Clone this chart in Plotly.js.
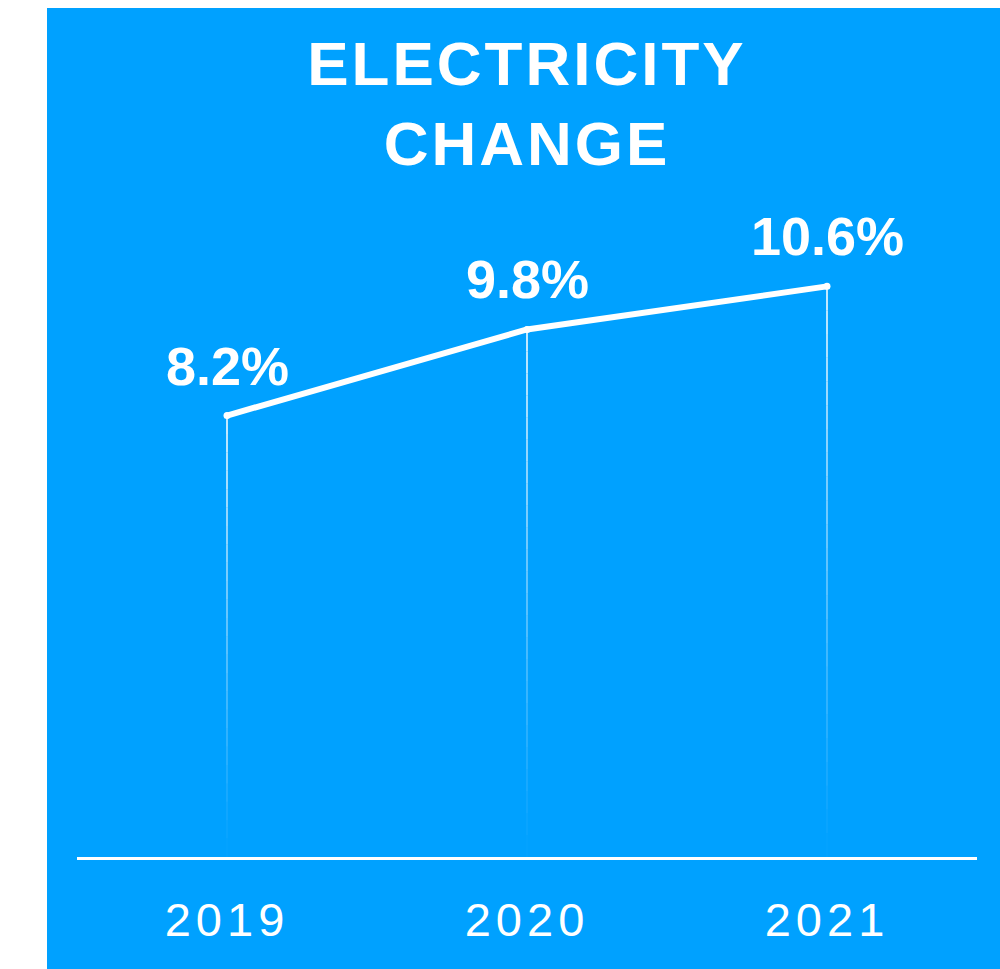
<!DOCTYPE html>
<html>
<head>
<meta charset="utf-8">
<script src="https://cdn.plot.ly/plotly-3.0.1.min.js"></script>
<style>
  html, body { margin: 0; padding: 0; background: #ffffff; }
  #chart { position: absolute; left: 47px; top: 8px; width: 953px; height: 961px; }
  #chart .xtick text { letter-spacing: 5px; }
  #chart .gtitle { letter-spacing: 3px; }
</style>
</head>
<body>
<div id="chart"></div>
<script>
// ---- data ----
const years = ['2019', '2020', '2021'];
const changePct = [8.2, 9.8, 10.6];
const valueLabels = ['8.2%', '9.8%', '10.6%'];
const titleLines = ['ELECTRICITY', 'CHANGE'];

// ---- style ----
const BG = '#00a1ff';
const WHITE = '#ffffff';
const FONT = 'Liberation Sans, Arial, sans-serif';

const traces = [];

// fading drop lines: each drop line split into steps whose opacity fades toward the baseline
const STEPS = 24;
for (let s = 0; s < STEPS; s++) {
  const xs = [], ys = [];
  years.forEach((yr, i) => {
    const v = changePct[i];
    xs.push(yr, yr, null);
    ys.push(v * s / STEPS, v * (s + 1) / STEPS, null);
  });
  const a = Math.pow((s + 0.5) / STEPS, 1.1) * 0.97;
  traces.push({
    type: 'scatter', mode: 'lines', x: xs, y: ys,
    line: { color: 'rgba(255,255,255,' + a.toFixed(3) + ')', width: 1.6 },
    hoverinfo: 'skip', showlegend: false, connectgaps: false
  });
}

// main line
traces.push({
  type: 'scatter', mode: 'lines+markers',
  x: years, y: changePct,
  line: { color: WHITE, width: 6 },
  marker: { color: WHITE, size: 7 },
  cliponaxis: false,
  showlegend: false,
  hovertemplate: '%{x}: %{y}%<extra></extra>'
});

// value labels (annotations placed at each category index)
const annotations = years.map((yr, i) => ({
  x: i, y: changePct[i], xref: 'x', yref: 'y',
  text: '<b>' + valueLabels[i] + '</b>',
  showarrow: false, xanchor: 'center', yanchor: 'bottom', yshift: 18,
  font: { family: FONT, size: 54, color: WHITE }
}));

const layout = {
  width: 953, height: 961,
  paper_bgcolor: BG, plot_bgcolor: BG,
  margin: { l: 30, r: 23, t: 203, b: 112 },
  title: {
    text: '<b>' + titleLines.join('<br>') + '</b>',
    font: { family: FONT, size: 62, color: WHITE },
    x: 0.5, xref: 'paper', xanchor: 'center',
    y: 0.92, yref: 'container', yanchor: 'top'
  },
  xaxis: {
    type: 'category', range: [-0.5, 2.5],
    showgrid: false, zeroline: false,
    showline: true, linecolor: WHITE, linewidth: 2.5,
    ticks: '', ticklabelstandoff: 20,
    tickfont: { family: FONT, size: 47, color: WHITE },
    fixedrange: true
  },
  yaxis: {
    range: [0, 12], showgrid: false, zeroline: false, showline: false,
    showticklabels: false, ticks: '', fixedrange: true
  },
  annotations: annotations,
  showlegend: false
};

Plotly.newPlot('chart', traces, layout, { displayModeBar: false, staticPlot: true });
</script>
</body>
</html>
